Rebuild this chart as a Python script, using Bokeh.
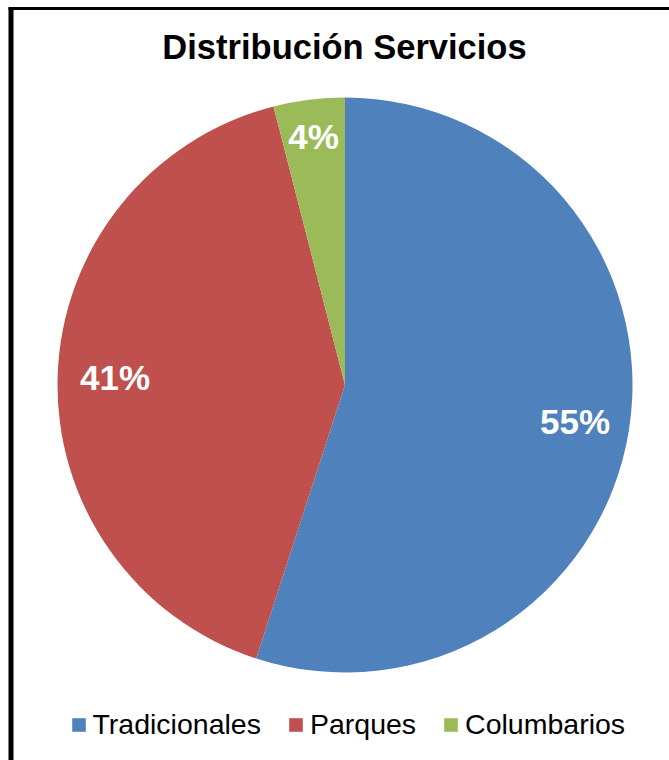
import math
from bokeh.plotting import figure
from bokeh.models import Range1d, Legend, LegendItem, Label
from bokeh.embed import file_html
from bokeh.resources import INLINE
from bokeh.core.properties import value

# ---- data ----
title = "Distribución Servicios"
categories = ["Tradicionales", "Parques", "Columbarios"]
values = [55, 41, 4]
colors = ["#4F81BD", "#C0504D", "#9BBB59"]

# ---- layout constants ----
W, H = 669, 760
CX, CY, R = 344.5, H - 384.5, 287.5
LABEL_R = [0.81, 0.80, 0.87]
FONT = "Liberation Sans"

total = sum(values)
starts, ends, lx, ly, labels = [], [], [], [], []
acc = 0
for v, f in zip(values, LABEL_R):
    a0 = math.pi / 2 - 2 * math.pi * acc / total
    acc += v
    a1 = math.pi / 2 - 2 * math.pi * acc / total
    starts.append(a0)
    ends.append(a1)
    mid = (a0 + a1) / 2
    lx.append(CX + f * R * math.cos(mid))
    ly.append(CY + f * R * math.sin(mid))
    labels.append(f"{round(100 * v / total)}%")

p = figure(width=W, height=H, x_range=Range1d(0, W), y_range=Range1d(0, H),
           output_backend="svg", toolbar_location=None, min_border=0,
           background_fill_color="white", border_fill_color="white")
p.axis.visible = False
p.grid.visible = False
p.outline_line_color = None

items = []
for i, cat in enumerate(categories):
    r = p.wedge(x=[CX], y=[CY], radius=R, start_angle=[starts[i]], end_angle=[ends[i]],
                direction="clock", fill_color=colors[i], line_color=None)
    items.append(LegendItem(label=cat, renderers=[r]))

p.text(x=lx, y=ly, text=labels, text_align="center", text_baseline="middle",
       text_color="white", text_font=value(FONT), text_font_style="bold",
       text_font_size="35px")

# chart frame border
p.segment(x0=[10.5], y0=[H - 7], x1=[10.5], y1=[0], line_width=5, line_color="black")
p.segment(x0=[8], y0=[H - 8], x1=[W], y1=[H - 8], line_width=3, line_color="black")

p.add_layout(Label(x=344, y=H - 46.5, text=title, text_align="center",
                   text_baseline="alphabetic", text_font=FONT, text_font_style="bold",
                   text_font_size="34.5px", text_color="black"))

legend = Legend(items=items, orientation="horizontal", location=(69.5, 19),
                padding=0, margin=0, spacing=26, label_standoff=6,
                glyph_width=17, glyph_height=17,
                label_text_font=FONT, label_text_font_size="28.5px",
                label_text_color="black",
                border_line_color=None, background_fill_alpha=0)
p.add_layout(legend, "center")

open("out.html", "w").write(file_html(p, INLINE))
